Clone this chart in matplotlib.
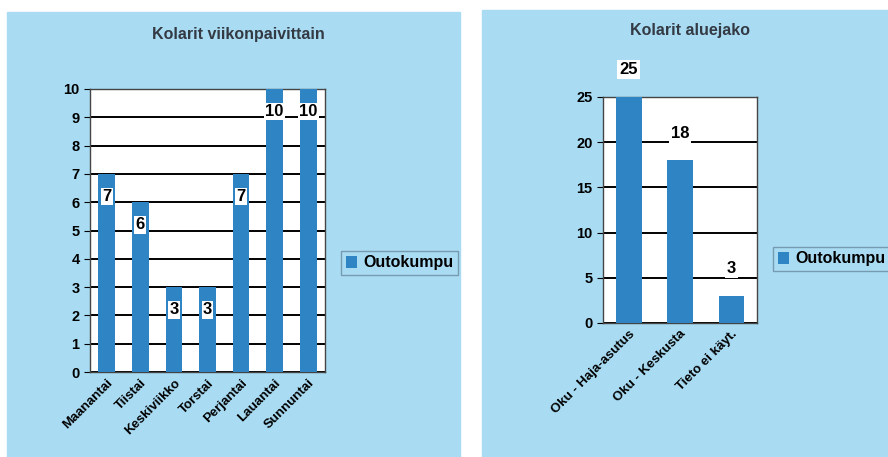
import matplotlib.pyplot as plt
from matplotlib.patches import Rectangle

# weekday collisions
days = ['Maanantai', 'Tiistai', 'Keskiviikko', 'Torstai', 'Perjantai', 'Lauantai', 'Sunnuntai']
day_counts = [7, 6, 3, 3, 7, 10, 10]

# area split
areas = ['Oku - Haja-asutus', 'Oku - Keskusta', 'Tieto ei käyt.']
area_counts = [25, 18, 3]

series_name = 'Outokumpu'
bar_color = '#2f84c4'
panel_bg = '#a9dcf3'

plt.rcParams['font.family'] = ['Liberation Sans', 'DejaVu Sans']

fig = plt.figure(figsize=(8.88, 4.57), dpi=100)
fig.patch.set_facecolor('white')

# light blue panels behind both charts
fig.patches.append(Rectangle((7 / 888, 0), 453 / 888, 1 - 12 / 457,
                             transform=fig.transFigure, color=panel_bg, zorder=-10))
fig.patches.append(Rectangle((482 / 888, 0), 406 / 888, 1 - 10 / 457,
                             transform=fig.transFigure, color=panel_bg, zorder=-10))


def style_axes(ax):
    ax.set_facecolor('white')
    ax.grid(axis='y', color='black', linewidth=1.4)
    ax.set_axisbelow(True)
    for s in ax.spines.values():
        s.set_color('#444444')
        s.set_linewidth(1)
    ax.tick_params(axis='y', labelsize=10.5, length=4, direction='out')
    ax.tick_params(axis='x', length=0, labelsize=9.5)
    for t in ax.get_yticklabels() + ax.get_xticklabels():
        t.set_fontweight('bold')


# left chart
ax1 = fig.add_axes([90 / 888, 1 - 372 / 457, 235 / 888, 283 / 457])
x1 = range(len(days))
ax1.bar(x1, day_counts, width=0.5, color=bar_color, label=series_name, zorder=3)
ax1.set_ylim(0, 10)
ax1.set_xlim(-0.5, len(days) - 0.5)
ax1.set_yticks(range(0, 11))
ax1.set_xticks(list(x1))
ax1.set_xticklabels(days, rotation=45, ha='right', rotation_mode='anchor')
style_axes(ax1)
for i, v in enumerate(day_counts):
    ax1.text(i, v - 0.8, str(v), ha='center', va='center', fontsize=12,
             fontweight='bold', zorder=5,
             bbox=dict(facecolor='white', edgecolor='none', pad=1))
fig.text(238 / 888, 1 - 35 / 457, 'Kolarit viikonpaivittain', ha='center', va='center',
         fontsize=11.5, fontweight='bold', color='#333a44')
fig.legend(handles=ax1.patches[:1], labels=[series_name], loc='center left',
           bbox_to_anchor=(333 / 888, 1 - 263 / 457),
           prop={'weight': 'bold', 'size': 11.5}, frameon=True, fancybox=False,
           edgecolor='#6a8aa0', facecolor=panel_bg, handlelength=0.7,
           handletextpad=0.4, borderpad=0.3)

# right chart
ax2 = fig.add_axes([603 / 888, 1 - 323 / 457, 154 / 888, 226 / 457])
x2 = range(len(areas))
ax2.bar(x2, area_counts, width=0.5, color=bar_color, label=series_name, zorder=3)
ax2.set_ylim(0, 25)
ax2.set_xlim(-0.5, len(areas) - 0.5)
ax2.set_yticks(range(0, 26, 5))
ax2.set_xticks(list(x2))
ax2.set_xticklabels(areas, rotation=45, ha='right', rotation_mode='anchor')
style_axes(ax2)
for i, v in enumerate(area_counts):
    ax2.text(i, v + 3, str(v), ha='center', va='center', fontsize=12,
             fontweight='bold', zorder=5, clip_on=False,
             bbox=dict(facecolor='white', edgecolor='none', pad=1.5))
fig.text(690 / 888, 1 - 30 / 457, 'Kolarit aluejako', ha='center', va='center',
         fontsize=11.5, fontweight='bold', color='#333a44')
fig.legend(handles=ax2.patches[:1], labels=[series_name], loc='center left',
           bbox_to_anchor=(765 / 888, 1 - 259 / 457),
           prop={'weight': 'bold', 'size': 11.5}, frameon=True, fancybox=False,
           edgecolor='#6a8aa0', facecolor=panel_bg, handlelength=0.7,
           handletextpad=0.4, borderpad=0.3)

plt.savefig('out.png', dpi=100)
